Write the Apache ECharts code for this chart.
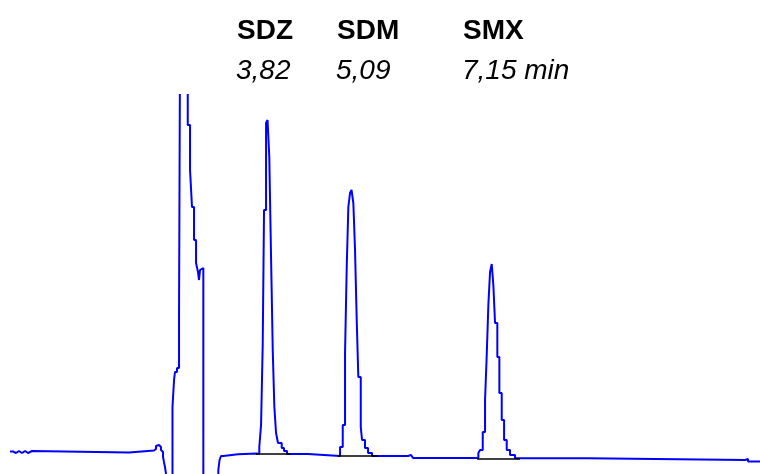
<!DOCTYPE html>
<html>
<head>
<meta charset="utf-8">
<script src="https://cdn.jsdelivr.net/npm/echarts@6/dist/echarts.min.js"></script>
<style>
  html, body { margin: 0; padding: 0; background: #fff; }
  #chart { width: 760px; height: 474px; }
</style>
</head>
<body>
<div id="chart"></div>
<script>
// 峰名称和保留时间
const peakNames = ['SDZ', 'SDM', 'SMX']
const retentionLabels = ['3,82', '5,09', '7,15 min']

// 色谱图信号 (时间 min, 信号)
const traceTime = [
  0, 0.044, 0.089, 0.133, 0.178, 0.222, 0.267, 0.326,
  1.763, 2.133, 2.163, 2.185, 2.207, 2.237, 2.252, 2.267, 2.281, 2.296, 2.311, 2.326,
  2.407, 2.430, 2.444, 2.474, 2.504, 2.519,
  2.633, 2.667, 2.696, 2.726, 2.756, 2.785, 2.800, 2.815, 2.837, 2.864,
  3.086, 3.104, 3.126, 3.160, 3.378, 3.659,
  3.693, 3.719, 3.744, 3.763, 3.793, 3.815,
  3.841, 3.867, 3.892, 3.916, 3.941, 3.970, 4.025, 4.059, 4.104, 4.415,
  4.889, 4.929, 4.963, 4.988, 5.012, 5.037, 5.059,
  5.086, 5.111, 5.136, 5.160, 5.196, 5.215, 5.259, 5.304, 5.363,
  5.896, 5.941, 5.970,
  6.938, 6.963, 7.003, 7.037, 7.062, 7.086, 7.111, 7.136,
  7.160, 7.185, 7.219, 7.249, 7.284, 7.319, 7.358, 7.407, 7.481,
  8.563, 10.889, 10.933, 11.111
]
const traceSignal = [
  2.5, 1, 3, 1, 3, 1, 3, 1.5,
  3.5, 5, 8, 9, 7, 4, 2, -3, -8, -13, -20, -66,
  47, 74, 82, 86, 142, 414,
  329, 284, 247, 214, 191, 182, 174, 184, 186, -66,
  -16, -6, -2, -0.3, 0.5, 0,
  7, 29, 111, 244, 331, 334,
  297, 197, 104, 47, 21, 11, 6, 3, 0, -2,
  7, 29, 101, 187, 247, 261, 264,
  251, 204, 134, 77, 27, 14, 6, 1, -2,
  -1, -0.5, -4,
  1, 4, 22, 54, 99, 149, 182, 190,
  169, 131, 97, 61, 34, 14, 4, -1, -4.3,
  -6, -5, -7.5, -7.5
]

// 积分基线 [起点, 终点, 信号]
const baselineStart = [3.644, 4.859, 6.919]
const baselineEnd = [4.148, 5.452, 7.556]
const baselineLevel = [0, -2, -4.3]

const myChart = echarts.init(document.getElementById('chart'))

const traceData = traceTime.map((t, i) => [t, traceSignal[i]])
const baselineData = baselineStart.map((t, i) => ({
  coords: [[t, baselineLevel[i]], [baselineEnd[i], baselineLevel[i]]]
}))

const labelLeft = [237, 337, 463]
const graphicTexts = []
peakNames.forEach((name, i) => {
  graphicTexts.push({
    type: 'text',
    left: labelLeft[i],
    top: 17,
    style: {
      text: name,
      font: 'bold 28px "Liberation Sans", Arial, sans-serif',
      fill: '#000'
    }
  })
  graphicTexts.push({
    type: 'text',
    left: labelLeft[i] - 1,
    top: 57,
    style: {
      text: retentionLabels[i],
      font: 'italic 28px "Liberation Sans", Arial, sans-serif',
      fill: '#000'
    }
  })
})

const option = {
  animation: false,
  backgroundColor: '#fff',
  grid: { left: 10, right: 0, top: 95, bottom: 0 },
  xAxis: { type: 'value', min: 0, max: 11.11, show: false },
  yAxis: { type: 'value', min: -20, max: 359, show: false },
  graphic: graphicTexts,
  series: [
    {
      type: 'line',
      data: traceData,
      step: 'end',
      showSymbol: false,
      clip: true,
      lineStyle: { color: '#0000ff', width: 2 },
      z: 2
    },
    {
      type: 'lines',
      coordinateSystem: 'cartesian2d',
      data: baselineData,
      lineStyle: { color: '#000', width: 1.6, opacity: 1 },
      z: 3
    }
  ]
}
myChart.setOption(option)
</script>
</body>
</html>
